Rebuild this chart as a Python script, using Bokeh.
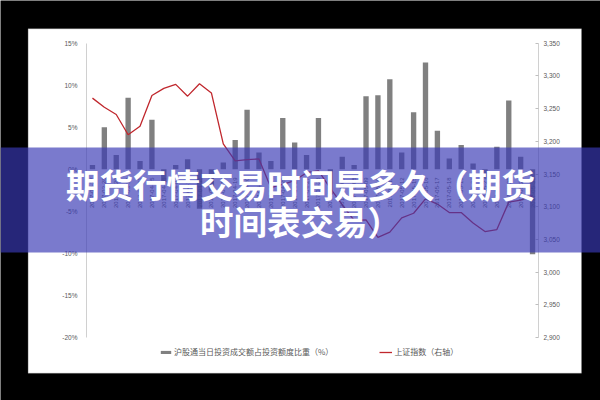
import numpy as np
from bokeh.plotting import figure
from bokeh.models import (Range1d, LinearAxis, FixedTicker, NumeralTickFormatter,
                          BoxAnnotation, Label, Legend, LegendItem, ColumnDataSource)
from bokeh.core.properties import value
from bokeh.embed import file_html
from bokeh.resources import INLINE

# ---------------- data ----------------
dates = ["2017-03-27", "2017-03-28", "2017-03-29", "2017-03-30", "2017-03-31",
         "2017-04-05", "2017-04-06", "2017-04-07", "2017-04-10", "2017-04-11",
         "2017-04-12", "2017-04-18", "2017-04-19", "2017-04-20", "2017-04-21",
         "2017-04-24", "2017-04-25", "2017-04-26", "2017-04-27", "2017-04-28",
         "2017-05-04", "2017-05-05", "2017-05-08", "2017-05-09", "2017-05-10",
         "2017-05-11", "2017-05-12", "2017-05-15", "2017-05-16", "2017-05-17",
         "2017-05-18", "2017-05-19", "2017-05-22", "2017-05-23", "2017-05-24",
         "2017-05-25", "2017-05-26", "2017-05-31"]
share_pct = [0.5, 5.0, 1.7, 8.5, 1.0, 5.9, -1.5, 0.5, 1.2, -4.7,
             -2.5, 0.8, 3.5, 7.1, 2.0, 1.0, 6.1, 3.2, 1.7, 6.1,
             -3.0, 1.5, 0.5, 8.7, 8.8, 10.7, 2.0, 6.8, 12.7, 4.6,
             1.3, 2.9, 0.7, -1.0, 2.7, 8.2, 1.5, -10.1]
sse_index = [3266, 3252, 3241, 3210, 3223, 3270, 3281, 3287, 3269, 3288,
             3274, 3196, 3170, 3172, 3173, 3129, 3134, 3140, 3152, 3155,
             3128, 3103, 3079, 3080, 3053, 3061, 3083, 3090, 3112, 3104,
             3091, 3091, 3075, 3062, 3065, 3107, 3110, 3117]
left_ticks = [-20, -15, -10, -5, 0, 5, 10, 15]
left_tick_labels = ["-20%", "-15%", "-10%", "-5%", "0%", "5%", "10%", "15%"]
right_ticks = [2900, 2950, 3000, 3050, 3100, 3150, 3200, 3250, 3300, 3350]
bar_name = "沪股通当日投资成交额占投资额度比重（%）"
line_name = "上证指数（右轴）"
title_lines = ["期货行情交易时间是多久（期货", "时间表交易）"]

# ---------------- layout (pixels on the 600x400 canvas) ----------------
W, H = 600, 400
plot_l, plot_r, plot_t, plot_b = 86.0, 538.0, 42.7, 337.0
n = len(dates)
unit = (plot_r - plot_l) / n
x_start = -0.5 - plot_l / unit
x_end = n - 0.5 + (W - plot_r) / unit
lo, hi = left_ticks[0], left_ticks[-1]
ly = (hi - lo) / (plot_b - plot_t)
rlo, rhi = right_ticks[0], right_ticks[-1]
ry = (rhi - rlo) / (plot_b - plot_t)

p = figure(width=W, height=H,
           x_range=Range1d(x_start, x_end),
           y_range=Range1d(lo - (H - plot_b) * ly, hi + plot_t * ly),
           output_backend="svg", toolbar_location=None,
           x_axis_location=None, y_axis_location=None,
           min_border=0, min_border_left=0, min_border_right=0,
           min_border_top=0, min_border_bottom=0,
           background_fill_color="black", border_fill_color="black",
           outline_line_color=None)
p.xgrid.visible = False
p.ygrid.visible = False
p.extra_y_ranges = {"idx": Range1d(rlo - (H - plot_b) * ry, rhi + plot_t * ry)}

# white chart panel
panel = BoxAnnotation(left=27.6, right=581, top=28.3, bottom=372.7,
                      left_units="canvas", right_units="canvas",
                      top_units="canvas", bottom_units="canvas",
                      fill_color="white", fill_alpha=1.0,
                      line_color="#8c8c8c", line_width=1, level="underlay")
p.add_layout(panel)

lab_font = "Liberation Sans"
lax = LinearAxis(fixed_location=-0.5, ticker=FixedTicker(ticks=left_ticks), bounds=(lo, hi))
lax.major_label_overrides = {t: s for t, s in zip(left_ticks, left_tick_labels)}
lax.axis_line_color = "#d0d0d0"
lax.major_tick_line_color = None
lax.minor_tick_line_color = None
lax.major_label_text_font_size = "6.5px"
lax.major_label_text_color = "#595959"
lax.major_label_text_font = lab_font
lax.major_label_standoff = 3
p.add_layout(lax, "left")

rax = LinearAxis(y_range_name="idx", fixed_location=n - 0.5,
                 ticker=FixedTicker(ticks=right_ticks), bounds=(rlo, rhi),
                 formatter=NumeralTickFormatter(format="0,0"))
rax.axis_line_color = "#d0d0d0"
rax.major_tick_line_color = "#bfbfbf"
rax.major_tick_in = 3
rax.major_tick_out = 0
rax.minor_tick_line_color = None
rax.major_label_text_font_size = "6.5px"
rax.major_label_text_color = "#595959"
rax.major_label_text_font = lab_font
rax.major_label_standoff = 5
p.add_layout(rax, "right")

xpos = list(range(n))
src = ColumnDataSource(dict(x=xpos, date=dates, share=share_pct, sse=sse_index))

bars = p.vbar(x="x", top="share", bottom=0, width=0.45, source=src,
              fill_color="#808080", line_color=None)
line = p.line(x="x", y="sse", y_range_name="idx", source=src,
              line_color="#c0272d", line_width=1.3)

p.text(x="x", y=0, text="date", source=src, angle=np.pi / 2,
       text_align="right", text_baseline="middle", y_offset=8,
       text_font_size="6px", text_color="#595959", text_font=value(lab_font))

legend = Legend(items=[LegendItem(label=bar_name, renderers=[bars]),
                       LegendItem(label=line_name, renderers=[line])],
                orientation="horizontal", location=(159, 43),
                glyph_width=13, glyph_height=4, label_height=8,
                label_text_font_size="8px", label_text_color="#595959",
                label_text_font="Noto Sans CJK SC",
                label_standoff=2, spacing=46, padding=4, margin=0,
                border_line_color=None, background_fill_alpha=0)
p.add_layout(legend)

# purple banner overlay with title
banner = BoxAnnotation(left=0, right=W, top=147, bottom=252,
                       left_units="canvas", right_units="canvas",
                       top_units="canvas", bottom_units="canvas",
                       fill_color=(57, 57, 180), fill_alpha=0.67,
                       line_color=None, level="overlay")
p.add_layout(banner)
for txt, yy in zip(title_lines, [183, 220]):
    p.add_layout(Label(x=W / 2, y=yy, x_units="canvas", y_units="canvas", text=txt,
                       text_align="center", text_baseline="middle",
                       text_font_size="33.5px", text_font_style="bold",
                       text_color="white", text_font="Noto Sans CJK SC",
                       level="overlay"))

open("out.html", "w").write(file_html(p, INLINE))
